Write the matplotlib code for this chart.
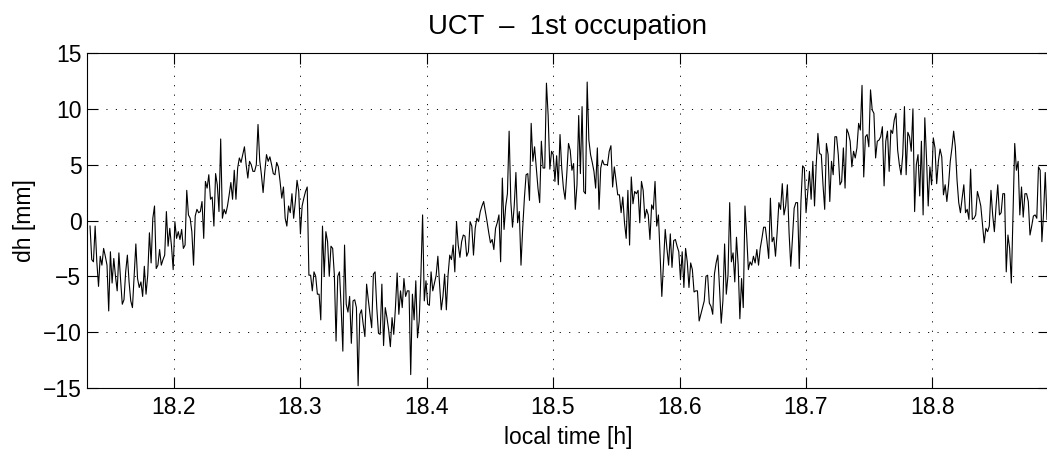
import matplotlib
matplotlib.use("Agg")
import matplotlib.pyplot as plt
import numpy as np

plt.rc("font", size=16.5, family="Liberation Sans")
plt.rc("lines", scale_dashes=False)

# dh [mm], left to right (uniform sampling)
dh_a = [-0.5, -3.5, -3.7, -0.5, -3.7, -5.9, -3.2, -4.0, -2.5, -3.2, -4.0, -8.1,
        -2.8, -5.6, -3.4, -5.0, -6.3, -2.9, -5.3, -7.5, -7.1, -4.6, -3.1, -5.5,
        -7.2, -7.8, -5.0, -2.1, -5.2, -6.0, -5.5, -6.8, -4.1, -6.6, -4.9, -1.1,
        -3.8, 0.2, 1.3, -4.3, -4.0, -2.6, -4.0, -3.5, -3.1, 0.8, -2.3, -0.7,
        -2.3, -4.4, -0.1, -1.6, -1.0, -1.7, -0.8, -2.5, -2.2, 2.7, 0.5, 0.2,
        -1.0, -4.0, 0.4, 1.0, 0.7, 0.8, 1.7, -1.6, 3.5, 2.9, 4.1, 1.9, 2.1,
        -0.5, 4.2, 3.2, 0.8, 7.3, 0.2, 1.0, 0.6, 1.3, 2.3, 3.4, 1.9, 4.5, 1.9,
        4.7, 5.6, 5.2, 5.9, 6.6]
dh_b = [5.0, 3.8, 5.3, 5.0, 4.4, 4.4, 5.0, 8.6, 5.4, 4.1, 2.5, 4.4, 5.9, 5.3,
        5.7, 5.0, 4.2, 4.1, 5.2, 4.8, 3.5, 2.0, 3.0, 0.2, -0.5, 1.3, 0.7, 2.4,
        0.2, 1.7, 3.6, 2.6, -1.2, 1.3, 2.0, 2.6, 3.0, -4.9, -4.9, -6.3, -4.6,
        -5.0, -6.6, -6.6, -8.9, -0.5, -5.0, -1.0, -1.9, -5.0, -2.3, -2.5, -4.9,
        -10.8, -5.0, -4.6, -7.8, -11.7, -2.2, -7.5, -8.2, -6.8, -11.0, -7.2,
        -7.1, -7.8, -14.8, -8.4, -8.0, -9.3, -10.4, -5.7, -7.1, -8.4, -9.6,
        -4.8, -4.6, -7.8, -10.1, -10.2, -5.7, -11.2, -7.8, -8.7, -9.8, -11.3,
        -8.7, -10.2, -7.8, -4.7, -8.4, -6.3, -7.8]
dh_c = [-5.2, -6.8, -6.3, -6.3, -13.8, -6.6, -8.9, -5.4, -10.5, -9.0, -4.9,
        0.5, -7.2, -5.4, -7.5, -7.6, -4.6, -6.3, -5.6, -4.9, -3.2, -5.7, -8.0,
        -6.8, -4.8, -8.0, -4.9, -3.1, -3.5, -2.2, -4.6, -0.1, -2.2, -3.3, -1.9,
        -1.3, -1.4, -3.2, -2.8, -0.1, -0.5, -3.1, -0.7, 0.2, -0.1, 0.8, 1.3,
        1.7, 0.8, -0.1, -1.1, -2.0, -1.7, -2.6, -0.7, -0.2, 0.5, -3.7, 3.8,
        -0.8, 1.3, 2.4, 8.0, 1.7, -0.6, 1.3, 4.3, -0.2, 0.8, -4.0, -0.7, 2.0,
        4.1, 4.2, 1.8, 8.7, 5.3, 6.6, 4.7, 2.9, 1.6, 7.1, 4.7, 4.7, 12.3, 9.4,
        4.6, 6.2, 5.9, 3.5, 5.8, 3.2]
dh_d = [7.7, 4.7, 2.9, 1.9, 4.2, 6.9, 6.3, 4.5, 5.1, 1.0, 3.2, 9.4, 4.2, 10.2,
        2.6, 2.4, 12.4, 7.2, 5.9, 5.2, 4.4, 2.9, 6.5, 1.0, 4.7, 5.4, 5.0, 5.0,
        5.0, 6.2, 6.7, 3.0, 4.8, 3.6, 2.3, 2.3, 0.7, 2.1, -0.2, -1.6, 2.7,
        -2.2, 3.9, 1.5, 2.6, 2.4, 2.7, -0.2, 3.5, 2.7, 0.2, 1.0, 0.5, -1.7, 1.4,
        1.0, 3.5, -0.5, 0.5, -3.1, -6.8, -3.7, -0.8, -2.5, -4.0, -1.2, -4.2,
        -1.8, -1.7, -2.3, -2.8, -5.3, -2.8, -6.0, -2.5, -3.7, -6.0, -3.8, -4.4,
        -6.4, -6.3, -6.3, -9.0, -8.4, -7.8, -7.2, -5.0, -4.9, -7.4, -7.7, -8.4,
        -4.8, -3.8, -3.1, -6.0, -9.2]
dh_e = [-7.2, -2.1, -6.6, -4.9, 1.6, -3.7, -2.9, -5.5, -1.5, -4.0, -8.8, -5.2,
        -7.8, 1.3, -1.3, -4.4, -3.7, -4.0, -3.2, -3.8, -2.6, -4.0, -2.5, -1.6,
        -0.6, -0.6, -1.9, -3.4, 2.0, -1.9, -1.5, -3.2, -1.0, 1.6, 1.0, 3.3, 0.5,
        1.3, 3.2, -1.1, -4.1, -1.6, 1.1, 1.6, 1.6, -4.3, 1.7, 4.9, 4.7, 0.7,
        2.5, 4.4, 1.9, 5.3, 1.3, 5.0, 7.8, 6.0, 5.9, 3.2, 1.0, 6.9, 5.9, 1.7,
        5.3, 4.1, 7.5, 7.5, 5.9, 3.2, 3.5, 6.5, 2.9, 8.2, 7.8, 7.1, 4.8, 6.2,
        5.6, 6.5, 8.7, 8.1, 12.1, 3.9, 7.5, 7.7, 6.6, 11.7, 9.9, 9.6, 5.6, 7.1,
        7.2, 7.5, 8.4]
dh_f = [3.1, 7.1, 8.0, 4.4, 8.1, 7.8, 9.0, 9.6, 6.3, 5.0, 4.1, 5.9, 10.2, 4.1,
        7.9, 7.5, 6.2, 10.0, 0.8, 5.0, 5.9, 2.2, 7.1, 0.5, 9.2, 5.6, 1.3, 4.8,
        3.2, 7.4, 6.5, 3.3, 5.3, 6.4, 5.7, 2.3, 3.2, 1.7, 3.2, 5.3, 6.5, 8.0,
        6.6, 3.6, 1.6, 0.7, 2.0, 3.2, 0.7, 1.0, 0.1, 4.6, 0.1, 0.2, 0.5, 2.6,
        2.0, 1.3, -0.4, -2.0, -0.7, -1.0, -0.5, 2.7, 0.5, -1.0, 1.3, 3.2, 0.5,
        0.7, 2.4, 2.4, -4.6, -1.3, -2.5, -5.6, 0.5, 6.9, 4.5, 5.3, 0.5, 3.0,
        0.3, 2.4, 2.4, 1.7, -1.3, -0.5, 0.4, 0.5, 0.2, 4.8, 4.5, -1.9, 0.7,
        4.3, 0.1]

t_start, t_end = 18.134, 18.8905
dh = np.array(dh_a + dh_b + dh_c + dh_d + dh_e + dh_f)
t = np.linspace(t_start, t_end, len(dh))

xticks = [18.2, 18.3, 18.4, 18.5, 18.6, 18.7, 18.8]
yticks = [-15, -10, -5, 0, 5, 10, 15]

fig = plt.figure(figsize=(10.47, 4.5), dpi=100)
ax = fig.add_axes([0.0831, 0.1378, 0.9188, 0.7444])
ax.plot(t, dh, color="k", lw=0.8)

ax.set_xlim(18.1316, 18.8921)
ax.set_ylim(-15, 15)
ax.set_xticks(xticks)
ax.set_yticks(yticks)
ax.grid(True, color="k", lw=0.7, linestyle=(0, (0.8, 6.0)))
ax.tick_params(direction="in", length=7.7, width=0.8, top=True, right=True)
ax.tick_params(axis="x", pad=6)
ax.tick_params(axis="y", pad=4)
for s in ax.spines.values():
    s.set_linewidth(0.8)

ax.set_xlabel("local time [h]", labelpad=5)
ax.set_ylabel("dh [mm]", labelpad=5)
ax.set_title("UCT  \u2013  1st occupation", pad=14)

fig.savefig("out.png", dpi=100)
